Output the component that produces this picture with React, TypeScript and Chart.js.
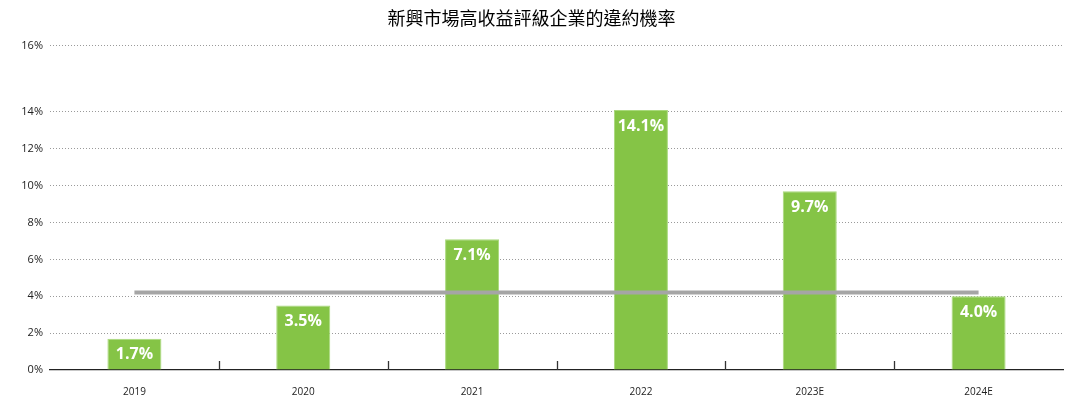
import React, { useEffect, useRef } from "react";
import { Chart, registerables } from "chart.js";

Chart.register(...registerables);

const titleText = "新興市場高收益評級企業的違約機率";
const categories = ["2019", "2020", "2021", "2022", "2023E", "2024E"];
const defaultRates = [1.7, 3.5, 7.1, 14.1, 9.7, 4.0];
const averageRate = [4.2, 4.2, 4.2, 4.2, 4.2, 4.2];
const yTickValues = [0, 2, 4, 6, 8, 10, 12, 14, 17.6];
const yTickLabels = ["0%", "2%", "4%", "6%", "8%", "10%", "12%", "14%", "16%"];

const barLabels = {
  id: "barLabels",
  afterDatasetsDraw(chart: any) {
    const ctx = chart.ctx;
    const meta = chart.getDatasetMeta(1);
    ctx.save();
    ctx.fillStyle = "#ffffff";
    ctx.font = "bold 16px 'Open Sans', sans-serif";
    ctx.textAlign = "center";
    ctx.textBaseline = "middle";
    meta.data.forEach((bar: any, i: number) => {
      const v = defaultRates[i];
      ctx.fillText(v.toFixed(1) + "%", bar.x, bar.y + 16);
    });
    ctx.restore();
  },
};

const innerTicks = {
  id: "innerTicks",
  afterDraw(chart: any) {
    const ctx = chart.ctx;
    const xs = chart.scales.x;
    const bottom = chart.chartArea.bottom;
    ctx.save();
    ctx.strokeStyle = "#333333";
    ctx.lineWidth = 1.3;
    for (let i = 1; i < categories.length; i++) {
      const x = (xs.getPixelForValue(i - 1) + xs.getPixelForValue(i)) / 2;
      ctx.beginPath();
      ctx.moveTo(Math.round(x) + 0.5, bottom - 9);
      ctx.lineTo(Math.round(x) + 0.5, bottom);
      ctx.stroke();
    }
    ctx.restore();
  },
};

export default function App() {
  const ref = useRef<HTMLCanvasElement | null>(null);
  useEffect(() => {
    document.body.style.margin = "0";
    const chart = new Chart(ref.current as HTMLCanvasElement, {
      type: "bar",
      data: {
        labels: categories,
        datasets: [
          {
            type: "line",
            label: "平均",
            data: averageRate,
            borderColor: "#a5a5a5",
            borderWidth: 4,
            pointRadius: 0,
            fill: false,
            order: 0,
          } as any,
          {
            type: "bar",
            label: "違約率",
            data: defaultRates,
            backgroundColor: "#85c446",
            borderColor: "#a9d97c",
            borderWidth: { left: 1, right: 1, top: 1, bottom: 0 },
            barPercentage: 0.32,
            categoryPercentage: 1,
            order: 1,
          } as any,
        ],
      },
      options: {
        responsive: false,
        animation: false,
        layout: { padding: { left: 0, right: 27, top: 0, bottom: 0 } },
        plugins: {
          legend: { display: false },
          tooltip: { enabled: false },
          title: {
            display: true,
            text: titleText,
            color: "#000000",
            font: { family: "'Noto Sans CJK TC', sans-serif", size: 18, weight: "normal" },
            padding: { top: 7, bottom: 17 },
          },
        },
        scales: {
          x: {
            grid: { display: false },
            border: { display: true, color: "#222222", width: 1.3 },
            ticks: {
              color: "#222222",
              font: { family: "'Open Sans', sans-serif", size: 10 },
              padding: 8,
            },
            afterFit(scale: any) {
              scale.height = 26;
            },
          },
          y: {
            min: 0,
            max: 17.6,
            afterBuildTicks(scale: any) {
              scale.ticks = yTickValues.map((v) => ({ value: v }));
            },
            afterFit(scale: any) {
              scale.width = 50;
            },
            grid: {
              color: (c: any) => (c.tick && c.tick.value === 0 ? "rgba(0,0,0,0)" : "#9a9a9a"),
              lineWidth: 1,
              drawTicks: false,
            },
            border: { display: false, dash: [1, 2] },
            ticks: {
              color: "#222222",
              font: { family: "'Open Sans', sans-serif", size: 11 },
              padding: 7,
              autoSkip: false,
              callback: (value: any) => {
                const idx = yTickValues.indexOf(Number(value));
                return idx >= 0 ? yTickLabels[idx] : "";
              },
            },
          } as any,
        },
      },
      plugins: [barLabels, innerTicks],
    } as any);
    return () => chart.destroy();
  }, []);
  return (
    <div style={{ width: 1090, height: 396 }}>
      <canvas ref={ref} width={1090} height={396} style={{ display: "block" }} />
    </div>
  );
}
